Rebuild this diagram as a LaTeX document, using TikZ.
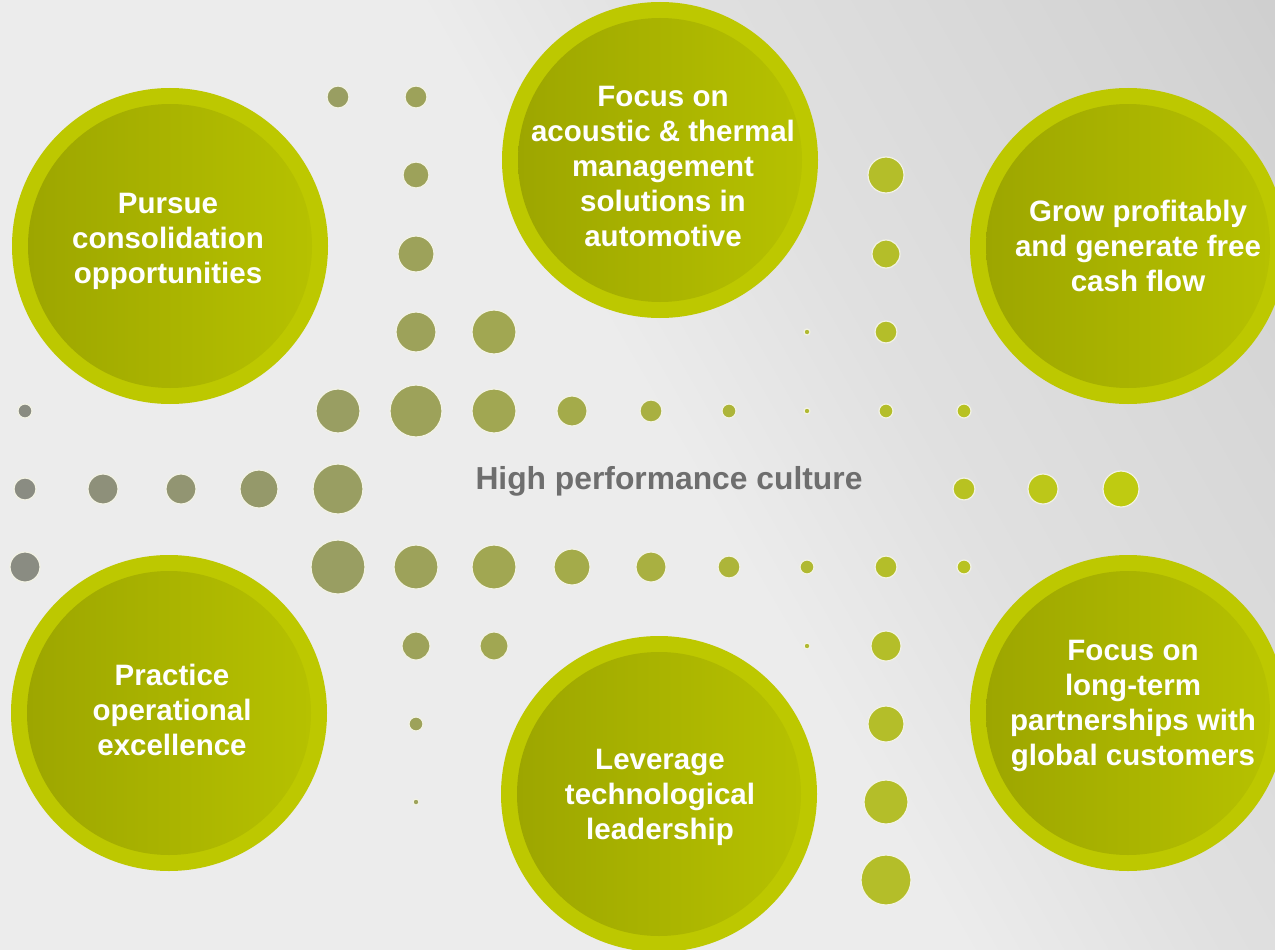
\documentclass[tikz,border=0pt]{standalone}
\usepackage{fontspec}
\setmainfont{Liberation Sans}
\definecolor{bgA}{HTML}{ECECEC}
\definecolor{bgM}{HTML}{E0E0E0}
\definecolor{bgD}{HTML}{D4D4D4}
\definecolor{bgB}{HTML}{C2C2C2}
\definecolor{ringcol}{HTML}{BDC800}
\definecolor{innerdark}{HTML}{9DA600}
\definecolor{innerlight}{HTML}{B6C100}
\definecolor{dotL}{HTML}{8A8C82}
\definecolor{dotR}{HTML}{C0CC10}
\definecolor{halo}{HTML}{F2F2E4}
\definecolor{culture}{HTML}{6E6E6E}
% backdrop: light towards the lower left, darkening towards the upper right
\pgfdeclarehorizontalshading{backdrop}{100bp}{%
  color(0bp)=(bgA); color(52bp)=(bgA); color(62bp)=(bgM);
  color(79bp)=(bgD); color(97bp)=(bgB); color(100bp)=(bgB)}
\tikzset{
  goaltext/.style={align=center, text=white, font=\bfseries\fontsize{29.5}{35}\selectfont},
  centretext/.style={text=culture, font=\bfseries\fontsize{31.8}{36}\selectfont},
  dotstyle/.style={draw=halo, line width=1.2pt}
}
% big goal circle: centre x, centre y
\newcommand\goaldisc[2]{%
  \fill[ringcol] (#1,#2) circle (158);
  \shade[left color=innerdark, right color=innerlight] (#1,#2) circle (142);
}
\begin{document}
\begin{tikzpicture}[x=1pt,y=-1pt]
\useasboundingbox (0,0) rectangle (1275,950);
\clip (0,0) rectangle (1275,950);
\shade[shading=backdrop, shading angle=30] (0,0) rectangle (1275,950);

% dot grid, coloured from grey-olive (left) to yellow-green (right)
\foreach \x/\y/\r in {
  338/97/11, 416/97/11,
  416/175/13, 886/175/18,
  416/254/18, 886/254/14,
  416/332/20, 494/332/22, 807/332/3, 886/332/11,
  25/411/7, 338/411/22, 416/411/26, 494/411/22, 572/411/15, 651/411/11, 729/411/7, 807/411/3, 886/411/7, 964/411/7,
  25/489/11, 103/489/15, 181/489/15, 259/489/19, 338/489/25, 964/489/11, 1043/489/15, 1121/489/18,
  25/567/15, 338/567/27, 416/567/22, 494/567/22, 572/567/18, 651/567/15, 729/567/11, 807/567/7, 886/567/11, 964/567/7,
  416/646/14, 494/646/14, 807/646/3, 886/646/15,
  416/724/7, 886/724/18,
  416/802/3, 886/802/22,
  886/880/25}{
  \pgfmathtruncatemacro\pp{(\x-25)/10.96}
  \fill[dotstyle, fill=dotR!\pp!dotL] (\x,\y) circle (\r);
}

% six goal discs
\goaldisc{170}{246}
\goaldisc{660}{160}
\goaldisc{1128}{246}
\goaldisc{169}{713}
\goaldisc{659}{794}
\goaldisc{1128}{713}

\node[goaltext] (consolidation) at (168,241) {Pursue\\consolidation\\opportunities};
\node[goaltext] (acoustic) at (663,166) {Focus on\\acoustic \& thermal\\management\\solutions in\\automotive};
\node[goaltext] (profit) at (1138,246) {Grow profitably\\and generate free\\cash flow};
\node[goaltext] (operational) at (172,710) {Practice\\operational\\excellence};
\node[goaltext] (technology) at (660,797) {Leverage\\technological\\leadership};
\node[goaltext] (partnership) at (1133,706) {Focus on\\long-term\\partnerships with\\global customers};

\node[centretext] (culture) at (669,481) {High performance culture};
\end{tikzpicture}
\end{document}
